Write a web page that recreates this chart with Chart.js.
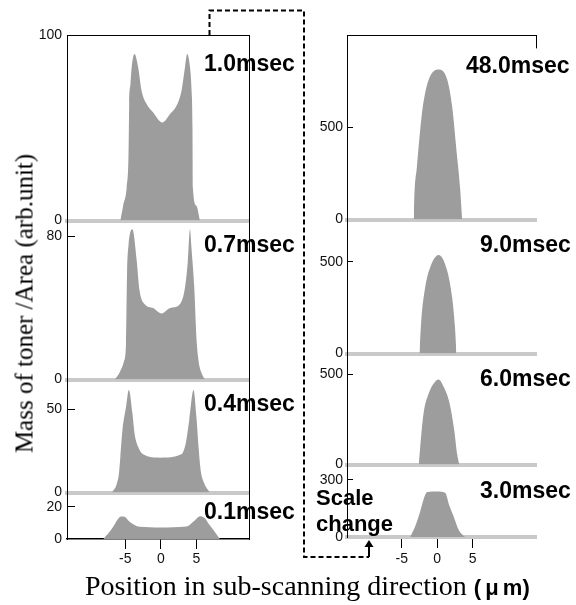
<!DOCTYPE html>
<html>
<head>
<meta charset="utf-8">
<script src="https://cdn.jsdelivr.net/npm/chart.js@4"></script>
<style>
  body { margin: 0; background: #fff; }
  #wrap { position: relative; width: 576px; height: 605px; overflow: hidden; background: #fff; }
  #wrap canvas { position: absolute; }
  .ttl { position: absolute; font: bold 23px "Liberation Sans", Arial, sans-serif; line-height: 23px; white-space: nowrap; color: #000; }
  #ylab { position: absolute; width: 400px; text-align: center; font: 25px "Liberation Serif", "Times New Roman", serif;
          line-height: 25px; white-space: nowrap; transform: rotate(-90deg); }
  #xlab { position: absolute; font: 28px "Liberation Serif", "Times New Roman", serif; line-height: 28px; white-space: nowrap; }
  #xlab b { font: bold 22px "Liberation Sans", Arial, sans-serif; word-spacing: -2px; }
  #scale { position: absolute; font: bold 22px "Liberation Sans", Arial, sans-serif; line-height: 26px; white-space: nowrap; }
  svg { position: absolute; left: 0; top: 0; }
</style>
</head>
<body>
<div id="wrap"></div>
<script>
// positions in sub-scanning direction (um) and mass of toner / area (arb.unit)
const xTicks = [-5, 0, 5];

// left column
const pos_1_0 = [-5.7, -5.3, -4.8, -4.55, -4.45, -4.27, -4.1, -3.7, -3.2, -2.7, -2.0, -1.1, 0.2, 1.3, 2.2, 2.9, 3.4, 3.7, 4.1, 4.3, 4.45, 4.5, 5.0, 5.5];
const mass_1_0 = [0, 8, 18, 35, 63, 74, 83, 90, 83, 70, 63, 58.5, 53, 57.6, 62, 70, 83, 90, 83, 72, 50, 18, 8, 0];

const pos_0_7 = [-6.5, -5.8, -5.2, -4.9, -4.75, -4.55, -4.0, -3.4, -3.0, -2.3, -1.1, 0.1, 1.3, 2.7, 3.4, 3.8, 4.1, 4.3, 4.7, 5.0, 5.3, 5.7, 6.2];
const mass_0_7 = [0, 4, 10, 20, 60, 75, 84, 66.6, 50, 42.3, 40, 37, 40, 42.3, 51.6, 66.6, 84, 74, 51.6, 23.7, 10.6, 4, 0];

const pos_0_4 = [-6.9, -6.2, -5.9, -5.7, -5.4, -4.9, -4.5, -4.0, -3.7, -3.2, -2.5, -0.1, 2.9, 3.5, 4.0, 4.6, 5.0, 5.3, 5.6, 6.1, 6.9];
const mass_0_4 = [0, 5.2, 11.3, 21.3, 37.6, 51.4, 61.6, 47.6, 35.5, 27.5, 23, 21, 23, 29.5, 43.6, 61.6, 45.6, 27.5, 13.4, 5.6, 0];

const pos_0_1 = [-8.1, -7.4, -6.7, -6.1, -5.6, -5.1, -4.4, -3.0, -0.1, 3.6, 4.8, 5.5, 6.2, 6.8, 7.4, 8.3];
const mass_0_1 = [0, 3.5, 7.6, 12, 14, 13.8, 10.7, 7.6, 7.2, 7.8, 11.7, 14.2, 12.9, 9, 5.6, 0];

// right column
const pos_48_0 = [-3.3, -3.24, -2.86, -2.2, -1.7, -1.0, 0.2, 1.4, 2.1, 2.7, 3.2, 3.5];
const mass_48_0 = [0, 105, 287, 560, 687, 778, 815, 760, 614, 378, 178, 0];

const pos_9_0 = [-2.5, -2.25, -1.7, -1.0, 0.2, 1.4, 2.1, 2.5, 2.7];
const mass_9_0 = [0, 178, 360, 469, 537, 451, 305, 142, 0];

const pos_6_0 = [-2.6, -2.4, -1.93, -1.2, -0.5, 0.2, 0.9, 1.75, 2.4, 2.8, 3.1];
const mass_6_0 = [0, 96, 282, 393, 448, 470, 430, 337, 189, 59, 0];

const pos_3_0 = [-3.8, -3.1, -2.4, -1.93, -1.4, 0, 1.1, 1.75, 2.3, 3.0, 3.9];
const mass_3_0 = [0, 56, 134, 195, 235, 238, 232, 160, 108, 38, 0];

const labelsLeft = ['1.0msec', '0.7msec', '0.4msec', '0.1msec'];
const labelsRight = ['48.0msec', '9.0msec', '6.0msec', '3.0msec'];
const yTickLeft = [100, 80, 50, 20];
const yTickRight = [500, 500, 500, 300];
const yMaxLeft = [100, 89, 68, 29];
const yMaxRight = [1000, 730, 615, 380];

const posLeft = [pos_1_0, pos_0_7, pos_0_4, pos_0_1];
const massLeft = [mass_1_0, mass_0_7, mass_0_4, mass_0_1];
const posRight = [pos_48_0, pos_9_0, pos_6_0, pos_3_0];
const massRight = [mass_48_0, mass_9_0, mass_6_0, mass_3_0];

Chart.defaults.font.family = '"Liberation Sans", Arial, sans-serif';
Chart.defaults.font.size = 14;
Chart.defaults.color = '#111';

const wrap = document.getElementById('wrap');
const AXW = 50, PADT = 14, PADR = 16, PADB = 12;

// layout of the panels (chart areas in page pixels)
const colL = { x: 67, w: 182, xMin: -13.2, xMax: 12.4, tops: [35, 220, 379, 492], bots: [220, 379, 492, 539] };
const colR = { x: 347, w: 189, xMin: -12.7, xMax: 13.9, tops: [35, 219, 353, 464], bots: [219, 353, 464, 537] };

function panel(col, i, pos, mass, yMax, yTick, side) {
  const last = i === 3, first = i === 0;
  const h = col.bots[i] - col.tops[i];
  const xh = last ? 32 : 0;
  const cv = document.createElement('canvas');
  cv.width = AXW + col.w + PADR;
  cv.height = PADT + h + xh + PADB;
  wrap.appendChild(cv);

  const scales = {
    x: {
      type: 'linear', min: col.xMin, max: col.xMax, position: 'bottom', z: 1,
      afterFit: s => { s.height = xh; },
      afterBuildTicks: s => { s.ticks = xTicks.map(v => ({ value: v })); },
      border: (side === 'L' && last) ? { color: '#000', width: 1.5 } : { color: '#c9c9c9', width: 4 },
      grid: { display: last, drawOnChartArea: false, tickLength: side === 'L' ? 10 : 11, color: '#000' },
      ticks: { display: last, autoSkip: false, padding: side === 'L' ? 2 : 3, maxRotation: 0 }
    },
    y: {
      type: 'linear', min: 0, max: yMax, position: 'left',
      afterFit: s => { s.width = AXW; },
      afterBuildTicks: s => { s.ticks = [{ value: 0 }, { value: yTick }]; },
      border: { color: '#000', width: 1 },
      grid: {
        drawOnChartArea: false, tickLength: side === 'L' ? -8 : -6,
        color: c => (c.tick && c.tick.value === 0) ? 'rgba(0,0,0,0)' : '#000'
      },
      ticks: { padding: side === 'L' ? 13 : 10 }
    }
  };
  if (side === 'L') {
    scales.yr = {
      type: 'linear', min: 0, max: yMax, position: 'right',
      afterFit: s => { s.width = 0; },
      border: { color: '#000', width: 1 }, grid: { display: false }, ticks: { display: false }
    };
  }
  if (first) {
    scales.xt = {
      type: 'linear', min: col.xMin, max: col.xMax, position: 'top',
      afterFit: s => { s.height = 0; },
      afterBuildTicks: s => { s.ticks = side === 'R' ? [{ value: col.xMax }] : []; },
      border: { color: '#000', width: 1 },
      grid: { display: side === 'R', drawOnChartArea: false, tickLength: -13, color: '#000' },
      ticks: { display: false }
    };
  }

  const ch = new Chart(cv, {
    type: 'line',
    data: {
      datasets: [{
        data: pos.map((p, k) => ({ x: p, y: mass[k] })),
        fill: 'origin',
        backgroundColor: '#9d9d9d',
        borderWidth: 0,
        pointRadius: 0,
        cubicInterpolationMode: 'monotone'
      }]
    },
    options: {
      responsive: false,
      maintainAspectRatio: false,
      animation: false,
      layout: { autoPadding: false, padding: { left: 0, top: PADT, right: PADR, bottom: PADB } },
      plugins: { legend: { display: false }, tooltip: { enabled: false } },
      scales: scales
    }
  });

  // grow the canvas until the plot area has the wanted size, then place it
  for (let k = 0; k < 3; k++) {
    const ca = ch.chartArea;
    const dw = Math.round(col.w - (ca.right - ca.left));
    const dh = Math.round(h - (ca.bottom - ca.top));
    if (!dw && !dh) break;
    ch.resize(ch.width + dw, ch.height + dh);
  }
  cv.style.left = (col.x - ch.chartArea.left) + 'px';
  cv.style.top = (col.tops[i] - ch.chartArea.top) + 'px';
}

for (let i = 0; i < 4; i++) {
  panel(colL, i, posLeft[i], massLeft[i], yMaxLeft[i], yTickLeft[i], 'L');
  panel(colR, i, posRight[i], massRight[i], yMaxRight[i], yTickRight[i], 'R');
}

// panel titles
const ttlL = [52, 233, 392, 500];
const ttlR = [54, 233, 367, 479];
labelsLeft.forEach((t, i) => {
  const d = document.createElement('div');
  d.className = 'ttl'; d.textContent = t;
  d.style.left = '204px'; d.style.top = ttlL[i] + 'px';
  wrap.appendChild(d);
});
labelsRight.forEach((t, i) => {
  const d = document.createElement('div');
  d.className = 'ttl'; d.textContent = t;
  d.style.left = (i === 0 ? 466 : 480) + 'px'; d.style.top = ttlR[i] + 'px';
  wrap.appendChild(d);
});
</script>
<script>
// axis titles, "Scale change" note and dashed connector
wrap.insertAdjacentHTML('beforeend',
  '<div id="ylab" style="left:-176px; top:291px;">Mass of toner /Area (arb.unit)</div>' +
  '<div id="xlab" style="left:85px; top:572px;">Position in sub-scanning direction <b>( \u03bc m)</b></div>' +
  '<div id="scale" style="left:316px; top:485px;">Scale<br>change</div>' +
  '<svg width="576" height="605">' +
  '<path d="M209.5 35 V10.5 H304 V557 H369" fill="none" stroke="#000" stroke-width="2" stroke-dasharray="5 3"/>' +
  '<path d="M369 557 V546" fill="none" stroke="#000" stroke-width="2"/>' +
  '<path d="M364.5 547 L369 540 L373.5 547 Z" fill="#000"/>' +
  '</svg>');
</script>
</body>
</html>
